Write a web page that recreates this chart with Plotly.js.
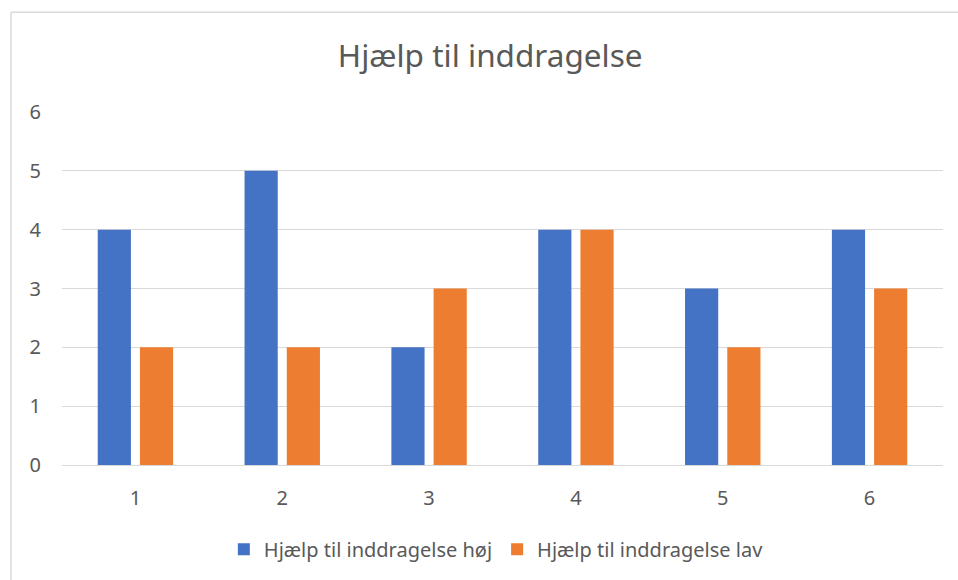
<!DOCTYPE html>
<html>
<head>
<meta charset="utf-8">
<script src="https://cdn.plot.ly/plotly-3.0.1.min.js"></script>
<style>
html,body{margin:0;padding:0;background:#fff;}
#chart{width:958px;height:580px;}
</style>
</head>
<body>
<div id="chart"></div>
<script>
const categories = ['1', '2', '3', '4', '5', '6'];
const seriesHoj = [4, 5, 2, 4, 3, 4];
const seriesLav = [2, 2, 3, 4, 2, 3];
const seriesNames = ['Hjælp til inddragelse høj', 'Hjælp til inddragelse lav'];
const chartTitle = 'Hjælp til inddragelse';

const FONT = 'Noto Sans, Open Sans, sans-serif';
const GREY = '#595959';

const data = [
  {type: 'bar', x: categories, y: seriesHoj, name: seriesNames[0],
   marker: {color: '#4472c4'}, hoverinfo: 'y'},
  {type: 'bar', x: categories, y: seriesLav, name: seriesNames[1],
   marker: {color: '#ed7d31'}, hoverinfo: 'y'}
];

const layout = {
  width: 958, height: 580,
  margin: {l: 62, r: 15, t: 112, b: 114},
  paper_bgcolor: '#fff', plot_bgcolor: '#fff',
  font: {family: FONT, color: GREY, size: 20},
  title: {text: chartTitle, font: {family: FONT, size: 31.5, color: GREY},
          x: 0.486, xref: 'paper', xanchor: 'center', y: 57, yref: 'container', yanchor: 'middle'},
  barmode: 'group', bargap: 0.425, bargroupgap: 0.214,
  xaxis: {type: 'category', showgrid: false, zeroline: false, showline: true,
          linecolor: '#d9d9d9', linewidth: 1, ticks: '', ticklabelstandoff: 15,
          tickfont: {family: FONT, size: 20, color: GREY}, fixedrange: true},
  yaxis: {range: [0, 6], dtick: 1, showgrid: true, gridcolor: '#d9d9d9', gridwidth: 1,
          zeroline: true, zerolinecolor: '#d9d9d9', zerolinewidth: 1, showline: false,
          ticks: '', ticklabelstandoff: 20,
          tickfont: {family: FONT, size: 20, color: GREY}, fixedrange: true},
  legend: {orientation: 'h', x: 0.493, xanchor: 'center', y: -0.235, yanchor: 'middle',
           font: {family: FONT, size: 20, color: GREY}, bgcolor: 'rgba(0,0,0,0)',
           itemclick: false, itemdoubleclick: false},
  shapes: [
    {type: 'line', xref: 'paper', yref: 'paper', x0: -0.0579, x1: 1.03, y0: 1.2825, y1: 1.2825,
     line: {color: '#d9d9d9', width: 1.5}},
    {type: 'line', xref: 'paper', yref: 'paper', x0: -0.0579, x1: -0.0579, y0: 1.2825, y1: -0.4,
     line: {color: '#d9d9d9', width: 1.5}}
  ],
  showlegend: true
};

Plotly.newPlot('chart', data, layout, {displayModeBar: false});
</script>
</body>
</html>
